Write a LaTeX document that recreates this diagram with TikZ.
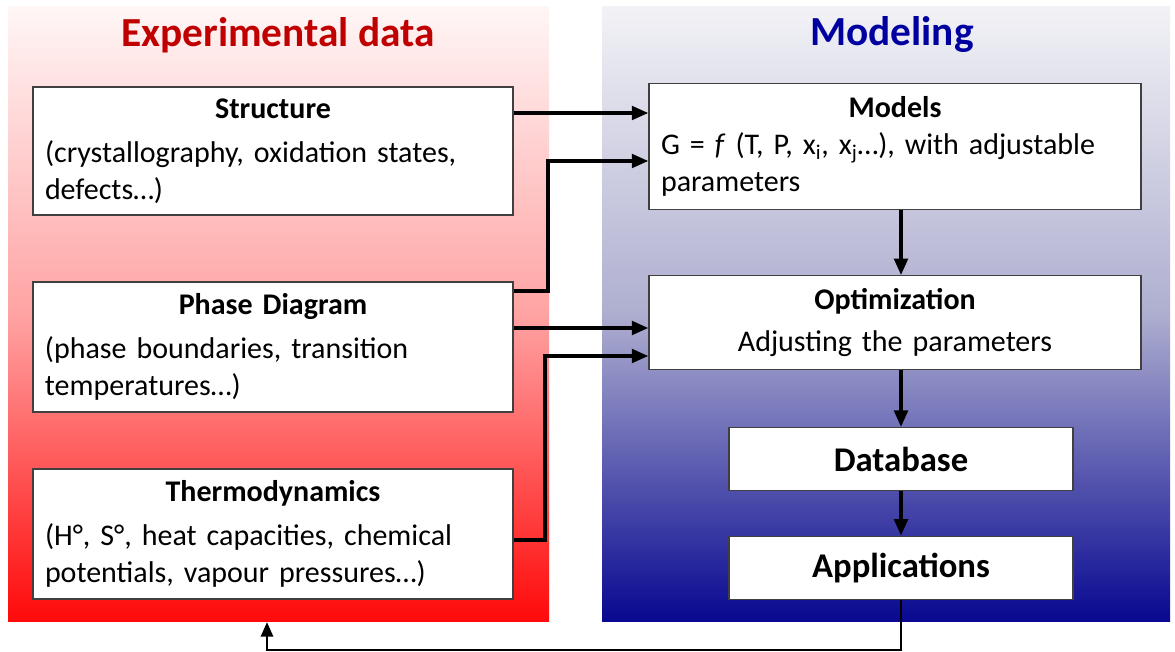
\documentclass[tikz,border=0pt]{standalone}
\usepackage{fontspec}
\setmainfont{Carlito}
\usetikzlibrary{arrows.meta,positioning}

\definecolor{expred}{RGB}{192,0,0}
\definecolor{modblue}{RGB}{0,0,160}
\definecolor{panelred}{RGB}{255,10,10}
\definecolor{panelblue}{RGB}{8,8,145}
\definecolor{midred}{RGB}{255,163,163}
\definecolor{midblue}{RGB}{174,174,208}
\definecolor{topred}{RGB}{255,246,246}
\definecolor{topblue}{RGB}{242,242,246}

\tikzset{
  infobox/.style={draw=black!75, line width=0.8pt, fill=white, minimum width=#1,
    text width=#1-18pt, align=left, inner xsep=9pt, inner ysep=0pt,
    font=\fontsize{22.5}{28}\selectfont},
  bigbox/.style={draw=black!75, line width=0.8pt, fill=white, minimum width=258pt,
    minimum height=47pt, font=\fontsize{26}{30}\selectfont\bfseries},
  paneltitle/.style={font=\fontsize{31}{36}\selectfont\bfseries},
  arr/.style={line width=3pt, -{Triangle[length=12.5pt,width=10pt]}},
  backarr/.style={line width=2.2pt, -{Triangle[length=11pt,width=9pt]}}
}

\begin{document}
\begin{tikzpicture}[x=0.75pt, y=-0.75pt]
\useasboundingbox (0,0) rectangle (1175,652);
% background panels
\shade[top color=topred, bottom color=panelred, middle color=midred] (8,7) rectangle (549,621);
\shade[top color=topblue, bottom color=panelblue, middle color=midblue] (602,7) rectangle (1170,621);
\node[paneltitle, text=expred] (exptitle) at (278,35) {Experimental data};
\node[paneltitle, text=modblue] (modtitle) at (892,35) {Modeling};

% experimental data
\node[infobox=360pt, minimum height=96pt] (struct) at (273,151)
  {\makebox[\linewidth]{\textbf{Structure}}\\[5pt]
   (crystallography, oxidation states,\\ defects…)};
\node[infobox=360pt, minimum height=97.5pt] (phase) at (273,347)
  {\makebox[\linewidth]{\textbf{Phase Diagram}}\\[5pt]
   (phase boundaries, transition\\ temperatures…)};
\node[infobox=360pt, minimum height=97.5pt] (thermo) at (273,534)
  {\makebox[\linewidth]{\textbf{Thermodynamics}}\\[5pt]
   (H°, S°, heat capacities, chemical\\ potentials, vapour pressures…)};

% modeling
\node[infobox=369pt, minimum height=94pt] (models) at (895,146.5)
  {\makebox[\linewidth]{\textbf{Models}}\\
   G = \textit{f} (T, P, x\textsubscript{i}, x\textsubscript{j}…), with adjustable\\ parameters};
\node[infobox=369pt, minimum height=70pt, align=center] (optim) at (895,322.5)
  {\textbf{Optimization}\\[4pt] Adjusting the parameters};
\node[bigbox] (db) at (901,459) {Database};
\node[bigbox] (app) [below=33.75pt of db] {Applications};

% connectors
\draw[arr] (struct.east |- 0,113) -- (models.west |- 0,113);
\draw[arr] (phase.east |- 0,291) -| (548,161) -- (models.west |- 0,161);
\draw[arr] (phase.east |- 0,328) -- (optim.west |- 0,328);
\draw[arr] (thermo.east |- 0,540) -| (545,356) -- (optim.west |- 0,356);
\draw[arr] (models.south -| db.north) -- (optim.north -| db.north);
\draw[arr] (optim.south -| db.north) -- (db.north);
\draw[arr] (db.south) -- (app.north);
\coordinate (ret) at (267,622);
\draw[backarr] (app.south) -- (app.south |- 0,650) -| (ret);
\end{tikzpicture}
\end{document}
